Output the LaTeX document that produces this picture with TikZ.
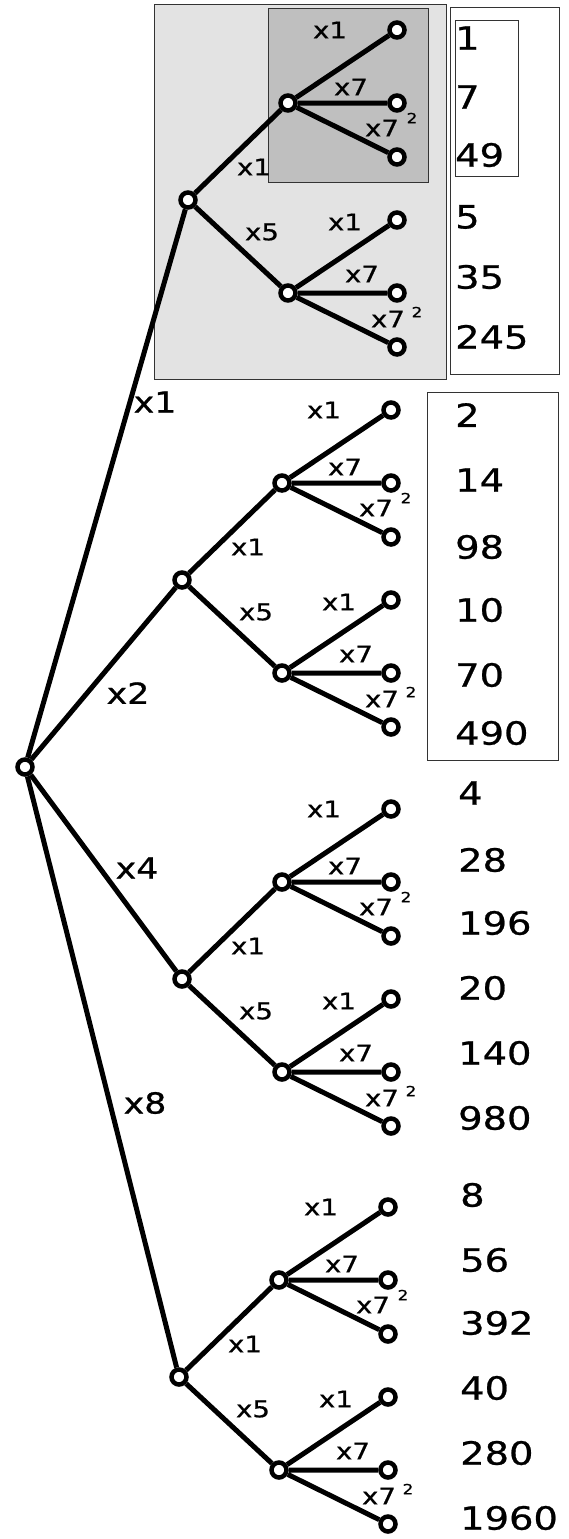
\documentclass[tikz,border=0pt]{standalone}
\usepackage{fontspec}
\newfontfamily\hand{DejaVu Sans}[FakeStretch=1.2,FakeBold=0.8]
\usetikzlibrary{calc}
\begin{document}
\begin{tikzpicture}[x=1pt,y=-1pt,
  dot/.style={circle,draw=black,fill=white,line width=4.5pt,minimum size=15pt,inner sep=0pt},
  edge/.style={line width=5pt},
  num/.style={anchor=west,inner sep=0pt,font=\hand\fontsize{32}{33}\selectfont},
  big/.style={inner sep=0pt,font=\hand\fontsize{29}{30}\selectfont},
  lab/.style={inner sep=0pt,font=\hand\fontsize{23}{24}\selectfont},
  sup/.style={inner sep=0pt,font=\hand\fontsize{14}{15}\selectfont},
  box/.style={draw=black!80,line width=0.8pt}]
\useasboundingbox (0,0) rectangle (568,1539);
\fill[white] (0,0) rectangle (568,1539);
% boxes
\draw[box,fill=black!11] (154,4) rectangle (446,379);
\draw[box,fill=black!25] (268,8) rectangle (428,182);
\draw[box] (450,7) rectangle (559,374);
\draw[box] (455,20) rectangle (518,176);
\draw[box] (427,392) rectangle (558,760);
% root
\node[dot] (R) at (25,767) {};
\foreach \g/\lx/\ly/\rl/\rx/\ry in {1/188/200/x1/155/402, 2/182/580/x2/128/693, 3/182/979/x4/137/868, 4/179/1377/x8/145/1103}{
  \node[dot] (L\g) at (\lx,\ly) {};
  \node[dot] (U\g) at ($(L\g)+(100,-97)$) {};
  \node[dot] (D\g) at ($(L\g)+(100,93)$) {};
  \draw[edge] (R) -- (L\g) (L\g) -- (U\g) (L\g) -- (D\g);
  \node[big] (RL\g) at (\rx,\ry) {\rl};
  \node[lab] (LU\g) at ($(L\g)+(66,-33)$) {x1};
  \node[lab] (LD\g) at ($(L\g)+(74,32)$) {x5};
  \foreach \p in {U,D}{
    \node[dot] (\p\g-1) at ($(\p\g)+(109,-73)$) {};
    \node[dot] (\p\g-2) at ($(\p\g)+(109,0)$) {};
    \node[dot] (\p\g-3) at ($(\p\g)+(109,54)$) {};
    \draw[edge] (\p\g) -- (\p\g-1) (\p\g) -- (\p\g-2) (\p\g) -- (\p\g-3);
  }
  \node[lab] (U\g-a) at ($(U\g)+(42,-73)$) {x1};
  \node[lab] (U\g-b) at ($(U\g)+(63,-16)$) {x7};
  \node[lab] (U\g-c) at ($(U\g)+(94,25)$) {x7};
  \node[sup] (U\g-s) at ($(U\g)+(124,15)$) {2};
  \node[lab] (D\g-a) at ($(D\g)+(57,-71)$) {x1};
  \node[lab] (D\g-b) at ($(D\g)+(74,-19)$) {x7};
  \node[lab] (D\g-c) at ($(D\g)+(100,26)$) {x7};
  \node[sup] (D\g-s) at ($(D\g)+(129,19)$) {2};
}
% results
\foreach \v/\nx/\ny in {1/455/38, 7/455/97, 49/455/155, 5/455/217, 35/455/277, 245/455/337,
  2/455/415, 14/455/480, 98/455/547, 10/455/610, 70/455/675, 490/455/733,
  4/458/793, 28/458/860, 196/458/923, 20/458/988, 140/458/1053, 980/458/1118,
  8/460/1195, 56/460/1260, 392/460/1323, 40/460/1388, 280/460/1453, 1960/460/1518}{
  \node[num] (N\v) at (\nx,\ny) {\v};
}
\end{tikzpicture}
\end{document}
